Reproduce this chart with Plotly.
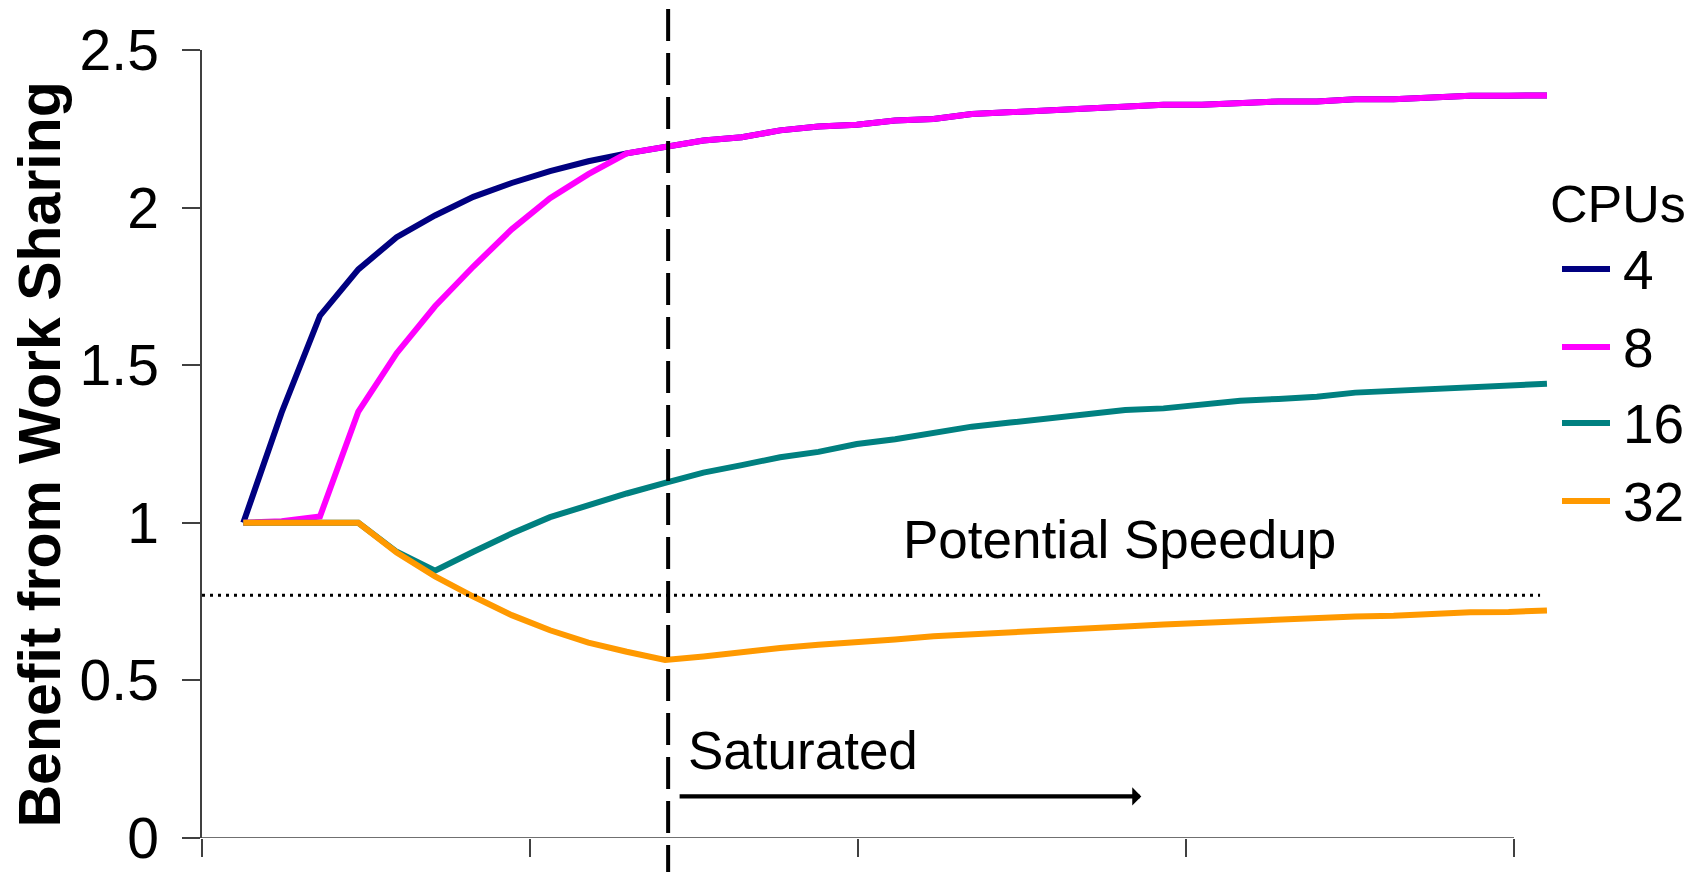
import plotly.graph_objects as go

# ---------------- data ----------------
x_steps = list(range(1, 36))
series_names = ["4", "8", "16", "32"]
series_colors = ["#000080", "#FF00FF", "#008080", "#FF9900"]

cpu4 = [1.00, 1.35, 1.657, 1.804, 1.906, 1.975, 2.034, 2.078, 2.116, 2.147,
        2.172, 2.194, 2.213, 2.223, 2.245, 2.257, 2.263, 2.276, 2.281, 2.297,
        2.302, 2.308, 2.315, 2.321, 2.326, 2.326, 2.331, 2.337, 2.337, 2.344,
        2.344, 2.350, 2.355, 2.355, 2.356]
cpu8 = [1.00, 1.005, 1.02, 1.353, 1.538, 1.687, 1.813, 1.931, 2.030, 2.106,
        2.172, 2.194, 2.213, 2.223, 2.245, 2.257, 2.263, 2.276, 2.281, 2.297,
        2.302, 2.308, 2.315, 2.321, 2.326, 2.326, 2.331, 2.337, 2.337, 2.344,
        2.344, 2.350, 2.355, 2.355, 2.356]
cpu16 = [1.00, 1.00, 1.00, 1.00, 0.908, 0.848, 0.908, 0.966, 1.018, 1.056,
         1.093, 1.127, 1.159, 1.183, 1.208, 1.225, 1.250, 1.265, 1.284, 1.305,
         1.318, 1.331, 1.344, 1.358, 1.363, 1.377, 1.387, 1.393, 1.400, 1.413,
         1.418, 1.424, 1.430, 1.434, 1.441]
cpu32 = [1.00, 1.00, 1.00, 1.00, 0.906, 0.830, 0.766, 0.707, 0.659, 0.620,
         0.591, 0.565, 0.576, 0.590, 0.603, 0.613, 0.620, 0.630, 0.640, 0.647,
         0.654, 0.660, 0.666, 0.671, 0.677, 0.683, 0.688, 0.694, 0.697, 0.703,
         0.705, 0.711, 0.716, 0.717, 0.722]

y_ticks = [0, 0.5, 1, 1.5, 2, 2.5]
y_tick_labels = ["0", "0.5", "1", "1.5", "2", "2.5"]
x_ticks = [-0.077, 8.48, 17.03, 25.59, 34.14]
saturation_x = 12.08
potential_speedup = 0.77

# ---------------- layout geometry ----------------
W, H = 1700, 872
ML, MR, MT, MB = 202, 140, 50, 34
x_range = [-0.077, 35.34]
y_range = [0, 2.5]


def paper_x(px):
    return (px - ML) / (W - ML - MR)


def paper_y(py):
    return (H - MB - py) / (H - MT - MB)


FONT = "Liberation Sans, Arial, sans-serif"

fig = go.Figure()
for name, vals, color in zip(series_names, [cpu4, cpu8, cpu16, cpu32], series_colors):
    fig.add_trace(go.Scatter(x=x_steps, y=vals, mode="lines", name=name,
                             line=dict(color=color, width=6),
                             showlegend=False, hoverinfo="x+y+name"))

shapes = []
# x axis line (ends at last tick)
shapes.append(dict(type="line", xref="x", yref="y", x0=x_ticks[0], x1=x_ticks[-1],
                   y0=0, y1=0, line=dict(color="#404040", width=1.5), layer="below"))
# potential speedup dotted line
shapes.append(dict(type="line", xref="x", yref="y", x0=x_range[0], x1=34.82,
                   y0=potential_speedup, y1=potential_speedup,
                   line=dict(color="black", width=3, dash="3px,5px")))
# saturation dashed line
sat_paper = (saturation_x - x_range[0]) / (x_range[1] - x_range[0])
shapes.append(dict(type="line", xref="paper", yref="paper",
                   x0=sat_paper, x1=sat_paper, y0=paper_y(9), y1=paper_y(874),
                   line=dict(color="black", width=4, dash="32px,12px")))

# manual legend
legend_line_y = [269, 347, 423, 501]
for name, color, ly in zip(series_names, series_colors, legend_line_y):
    shapes.append(dict(type="line", xref="paper", yref="paper",
                       x0=paper_x(1562), x1=paper_x(1610), y0=paper_y(ly), y1=paper_y(ly),
                       line=dict(color=color, width=6)))

annotations = []
annotations.append(dict(text="CPUs", xref="paper", yref="paper",
                        x=paper_x(1548), y=paper_y(204), xanchor="left", yanchor="middle",
                        showarrow=False, font=dict(family=FONT, size=52, color="black")))
for name, ly in zip(series_names, legend_line_y):
    annotations.append(dict(text=name, xref="paper", yref="paper",
                            x=paper_x(1621), y=paper_y(ly + 1), xanchor="left", yanchor="middle",
                            showarrow=False, font=dict(family=FONT, size=55, color="black")))

annotations.append(dict(text="Potential Speedup", xref="x", yref="y",
                        x=18.15, y=0.947, xanchor="left", yanchor="middle", showarrow=False,
                        font=dict(family=FONT, size=53, color="black")))
annotations.append(dict(text="Saturated", xref="x", yref="y",
                        x=12.55, y=0.279, xanchor="left", yanchor="middle", showarrow=False,
                        font=dict(family=FONT, size=53, color="black")))
annotations.append(dict(text="", xref="x", yref="y", x=24.42, y=0.132,
                        axref="x", ayref="y", ax=12.34, ay=0.132, showarrow=True,
                        arrowhead=1, arrowsize=0.7, arrowwidth=4.3, arrowcolor="black",
                        standoff=0, startstandoff=0))
annotations.append(dict(text="<b>Benefit from Work Sharing</b>", xref="paper", yref="paper",
                        x=paper_x(39), y=paper_y(454.5), xanchor="center", yanchor="middle",
                        textangle=-90, showarrow=False,
                        font=dict(family=FONT, size=59, color="black")))

fig.update_layout(
    template="none",
    width=W, height=H,
    margin=dict(l=ML, r=MR, t=MT, b=MB, pad=0, autoexpand=False),
    paper_bgcolor="white", plot_bgcolor="white",
    font=dict(family=FONT, color="black"),
    showlegend=False,
    shapes=shapes, annotations=annotations,
    xaxis=dict(range=x_range, showgrid=False, zeroline=False, showline=False,
               automargin=False,
               tickmode="array", tickvals=x_ticks, ticktext=[""] * len(x_ticks),
               ticks="outside", ticklen=18, tickwidth=1.5, tickcolor="#404040"),
    yaxis=dict(range=y_range, showgrid=False, zeroline=False, showline=True,
               automargin=False,
               linecolor="#404040", linewidth=1.5,
               tickmode="array", tickvals=y_ticks, ticktext=y_tick_labels,
               ticks="outside", ticklen=18, tickwidth=1.5, tickcolor="#404040",
               ticklabelstandoff=12,
               tickfont=dict(family=FONT, size=57, color="black")),
)

fig.write_html("out.html")
